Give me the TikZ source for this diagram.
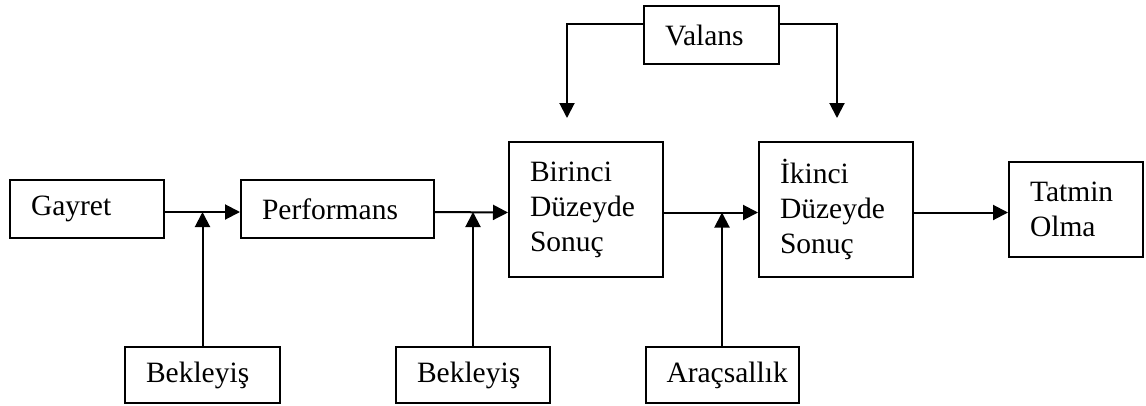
\documentclass[tikz,border=0pt]{standalone}
\usepackage{fontspec}
\setmainfont{Liberation Serif}
\usetikzlibrary{arrows.meta, positioning}

\begin{document}
\begin{tikzpicture}[
    x=1pt, y=-1pt,
    box/.style={rectangle, draw, line width=2pt, inner xsep=21pt, inner ysep=0pt, align=left, font=\fontsize{29.5}{35}\selectfont},
    arrow/.style={-{Triangle[length=15pt, width=15pt]}, line width=2pt},
]
\useasboundingbox[fill=white] (0,0) rectangle (1146,405);

% Main row
\node[box, text width=112pt, minimum height=58pt] (gayret) at (87,209) {Gayret};
\node[box, text width=151pt, minimum height=58pt] (perf) at (337.5,209) {Performans};
\node[box, text width=112pt, minimum height=135pt] (birinci) at (586,209.5) {Birinci\\Düzeyde\\Sonuç};
\node[box, text width=112pt, minimum height=135pt] (ikinci) at (836,209.5) {İkinci\\Düzeyde\\Sonuç};
\node[box, text width=92pt, minimum height=95pt] (tatmin) at (1076,209.5) {Tatmin\\Olma};

% Valans
\node[box, text width=93pt, minimum height=58pt] (valans) at (711.5,35) {Valans};

% Bottom row
\node[box, text width=113pt, minimum height=56pt] (bek1) at (202.5,375) {Bekleyiş};
\node[box, text width=112pt, minimum height=56pt] (bek2) at (473,375) {Bekleyiş};
\node[box, text width=111pt, minimum height=56pt] (arac) at (722,375) {Araçsallık};

% Free ends of the Valans arrows
\coordinate (vl) at (567,118);
\coordinate (vr) at (837,118);

% Connections
\draw[arrow] ([yshift=-3pt]gayret.east) -- ([yshift=-3pt]perf.west);
\draw[arrow] ([yshift=-3pt]perf.east) -- ([yshift=-3pt]birinci.west);
\draw[arrow] ([yshift=-3pt]birinci.east) -- ([yshift=-3pt]ikinci.west);
\draw[arrow] ([yshift=-3pt]ikinci.east) -- ([yshift=-3pt]tatmin.west);

% Moderators
\draw[arrow] (bek1.north) -- ([yshift=-3pt]bek1.north |- gayret.east);
\draw[arrow] (bek2.north) -- ([yshift=-3pt]bek2.north |- perf.east);
\draw[arrow] (arac.north) -- ([yshift=-3pt]arac.north |- birinci.east);

% Valans
\draw[arrow] ([yshift=11pt]valans.west) -| (vl);
\draw[arrow] ([yshift=11pt]valans.east) -| (vr);

\end{tikzpicture}
\end{document}
